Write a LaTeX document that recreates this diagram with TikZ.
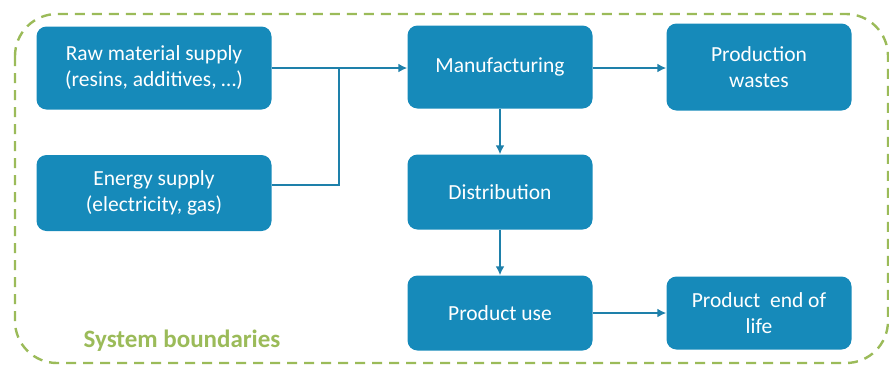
\documentclass[tikz,border=0pt]{standalone}
\usepackage{fontspec}
\setmainfont{Carlito}
\usepackage{tikz}
\usetikzlibrary{arrows.meta}

\definecolor{boxblue}{RGB}{22,138,186}
\definecolor{lineblue}{RGB}{30,128,170}
\definecolor{bndgreen}{RGB}{155,187,89}

\tikzset{
    stage/.style={draw=none, fill=boxblue, rounded corners=10pt, text=white,
        align=center, inner sep=0pt, minimum width=185pt, minimum height=78pt,
        font=\fontsize{21.5}{26}\selectfont},
    flow/.style={draw=lineblue, line width=2.8pt},
    flowarrow/.style={flow, -{Latex[length=9pt,width=9pt]}}
}

\begin{document}
\begin{tikzpicture}[x=1pt, y=-1pt]
            % \draw[help lines] (0,0) grid[step=50] (889,365);
            \useasboundingbox (0,0) rectangle (889,365);
            \draw[bndgreen, line width=2.4pt, dash pattern=on 10pt off 7pt, rounded corners=42pt]
                (15,14) rectangle (888,363);
            \node[text=bndgreen, font=\fontsize{25}{28}\selectfont\bfseries] (bnd) at (182,341) {System boundaries};

            \node[stage, minimum width=235pt, minimum height=83pt] (raw) at (154,68) {Raw material supply\\(resins, additives, \dots)};
            \node[stage, minimum width=235pt, minimum height=76pt] (energy) at (154,193) {Energy supply\\(electricity, gas)};
            \node[stage, minimum height=83pt] (manuf) at (500,67) {Manufacturing};
            \node[stage, minimum height=87pt] (waste) at (759,67) {Production\\wastes};
            \node[stage, minimum height=75pt] (distr) at (500,192) {Distribution};
            \node[stage, minimum height=75pt] (use) at (500,313) {Product use};
            \node[stage, minimum height=73pt] (eol) at (759,313) {Product\ \ end of\\life};

            \coordinate (join) at (339,68);
            \draw[flowarrow] (raw.east) -- (manuf.west |- raw.east);
            \draw[flow] (energy.east |- 0,185) -| (join);
            \draw[flowarrow] (manuf.east |- 0,68) -- (waste.west |- 0,68);
            \draw[flowarrow] (manuf.south) -- (distr.north);
            \draw[flowarrow] (distr.south) -- (use.north);
            \draw[flowarrow] (use.east) -- (eol.west |- use.east);
        \end{tikzpicture}
\end{document}
